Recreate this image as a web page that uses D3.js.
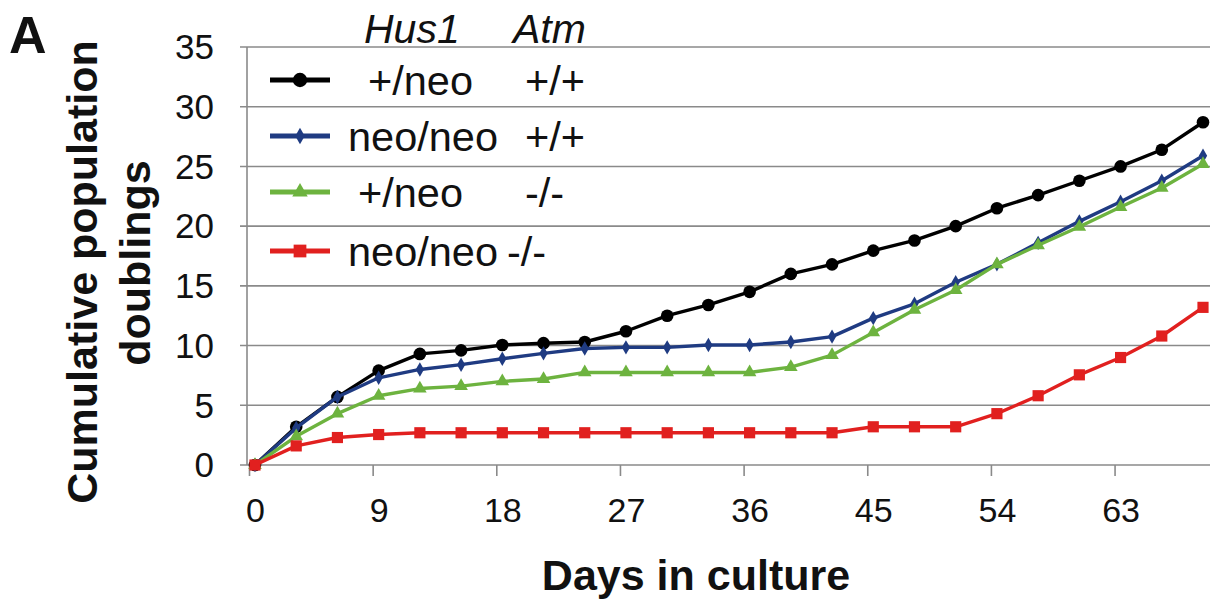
<!DOCTYPE html>
<html>
<head>
<meta charset="utf-8">
<script src="https://cdn.jsdelivr.net/npm/d3@7/dist/d3.min.js"></script>
<style>
  body { margin: 0; background: #fff; }
  text { font-family: "Liberation Sans", Arial, sans-serif; fill: #111; }
</style>
</head>
<body>
<div id="chart"></div>
<script>
// days in culture (every 3 days)
const days = [0,3,6,9,12,15,18,21,24,27,30,33,36,39,42,45,48,51,54,57,60,63,66,69];

// cumulative population doublings
const hetAtmWt  = [0,3.2,5.7,7.9,9.3,9.6,10.05,10.2,10.3,11.2,12.5,13.4,14.5,16.0,16.8,17.95,18.8,20.0,21.5,22.6,23.8,25.0,26.4,28.7];
const neoAtmWt  = [0,3.1,5.7,7.3,8.0,8.4,8.9,9.35,9.75,9.85,9.85,10.05,10.05,10.3,10.75,12.3,13.5,15.3,16.8,18.6,20.4,22.05,23.8,25.9];
const hetAtmKo  = [0,2.4,4.3,5.8,6.4,6.6,7.0,7.2,7.75,7.75,7.75,7.75,7.75,8.2,9.2,11.1,13.0,14.65,16.8,18.4,19.95,21.6,23.2,25.2];
const neoAtmKo  = [0,1.6,2.3,2.55,2.7,2.7,2.7,2.7,2.7,2.7,2.7,2.7,2.7,2.7,2.7,3.2,3.2,3.2,4.3,5.8,7.55,9.0,10.8,13.2];

const hus1Labels = ["+/neo","neo/neo","+/neo","neo/neo"];
const atmLabels  = ["+/+","+/+","-/-","-/-"];
const xTicks = [0,9,18,27,36,45,54,63];
const yTicks = [0,5,10,15,20,25,30,35];

const series = [
  {values: hetAtmWt, color: "#000000", symbol: d3.symbolCircle,   size: 125},
  {values: neoAtmWt, color: "#1f3b82", symbol: d3.symbolDiamond,  size: 60},
  {values: hetAtmKo, color: "#6db33f", symbol: d3.symbolTriangle, size: 80},
  {values: neoAtmKo, color: "#e1201f", symbol: d3.symbolSquare,   size: 125}
];

const W = 1222, H = 602;
const svg = d3.select("#chart").append("svg")
  .attr("width", W).attr("height", H);

const x = d3.scaleLinear().domain([0, 69]).range([255, 1203]);
const y = d3.scaleLinear().domain([0, 35]).range([465, 47]);

// horizontal gridlines (they also make the y tick marks)
svg.append("g")
  .selectAll("line")
  .data(yTicks)
  .join("line")
    .attr("x1", 240).attr("x2", 1210)
    .attr("y1", d => y(d)).attr("y2", d => y(d))
    .attr("stroke", "#8a8a8a").attr("stroke-width", 1.6);

// y axis line
svg.append("line")
  .attr("x1", 247).attr("x2", 247)
  .attr("y1", y(35)).attr("y2", y(0))
  .attr("stroke", "#8a8a8a").attr("stroke-width", 1.6);

// y tick labels
svg.append("g")
  .selectAll("text")
  .data(yTicks)
  .join("text")
    .attr("x", 214).attr("y", d => y(d))
    .attr("dy", "0.35em")
    .attr("text-anchor", "end")
    .style("font-size", "35px")
    .text(d => d);

// x axis: tick marks sit a bit left of the labels, like the excel original
const xAxis = svg.append("g")
  .attr("transform", "translate(0," + y(0) + ")")
  .call(d3.axisBottom(x).tickValues(xTicks).tickSize(11).tickPadding(22));
xAxis.select(".domain").remove();
xAxis.selectAll(".tick line")
  .attr("transform", "translate(-6,0)")
  .attr("stroke", "#8a8a8a").attr("stroke-width", 1.6);
xAxis.selectAll(".tick text")
  .style("font-size", "34px")
  .style("font-family", "'Liberation Sans', Arial, sans-serif")
  .attr("fill", "#111");

// series lines + markers
const line = d3.line()
  .x((d, i) => x(days[i]))
  .y(d => y(d));

series.forEach(s => {
  svg.append("path")
    .datum(s.values)
    .attr("fill", "none")
    .attr("stroke", s.color)
    .attr("stroke-width", 3.4)
    .attr("stroke-linejoin", "round")
    .attr("d", line);
  svg.append("g")
    .selectAll("path")
    .data(s.values)
    .join("path")
      .attr("transform", (d, i) => "translate(" + x(days[i]) + "," + y(d) + ")")
      .attr("d", d3.symbol().type(s.symbol).size(s.size))
      .attr("fill", s.color);
});

// legend
const legend = svg.append("g");
legend.append("text").attr("x", 364).attr("y", 43)
  .style("font-size", "41px").style("font-style", "italic").text("Hus1");
legend.append("text").attr("x", 513).attr("y", 43)
  .style("font-size", "41px").style("font-style", "italic").text("Atm");

const rowY = [80, 136, 192, 251];
const hus1X = [368, 348, 358, 348];
const atmX = [525, 525, 525, 507];
series.forEach((s, i) => {
  legend.append("line")
    .attr("x1", 270).attr("x2", 330)
    .attr("y1", rowY[i]).attr("y2", rowY[i])
    .attr("stroke", s.color).attr("stroke-width", 5);
  legend.append("path")
    .attr("transform", "translate(300," + rowY[i] + ")")
    .attr("d", d3.symbol().type(s.symbol).size(s.size * 1.3))
    .attr("fill", s.color);
  legend.append("text").attr("x", hus1X[i]).attr("y", rowY[i]).attr("dy", "0.36em")
    .style("font-size", "41.5px").text(hus1Labels[i]);
  legend.append("text").attr("x", atmX[i]).attr("y", rowY[i]).attr("dy", "0.36em")
    .style("font-size", "41.5px").text(atmLabels[i]);
});

// panel letter
svg.append("text").attr("x", 9).attr("y", 53)
  .style("font-size", "52px").style("font-weight", "bold").text("A");

// axis titles
svg.append("text")
  .attr("x", 696).attr("y", 590)
  .attr("text-anchor", "middle")
  .style("font-size", "43px").style("font-weight", "bold")
  .text("Days in culture");

svg.append("text")
  .attr("transform", "translate(97,272) rotate(-90)")
  .attr("text-anchor", "middle")
  .style("font-size", "43px").style("font-weight", "bold")
  .text("Cumulative population");
svg.append("text")
  .attr("transform", "translate(150,263) rotate(-90)")
  .attr("text-anchor", "middle")
  .style("font-size", "43px").style("font-weight", "bold")
  .text("doublings");
</script>
</body>
</html>
